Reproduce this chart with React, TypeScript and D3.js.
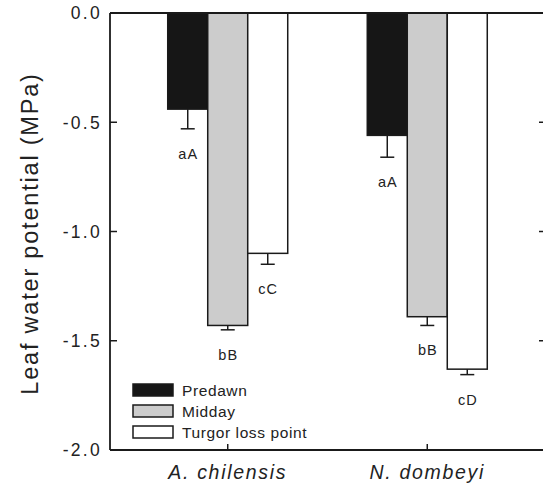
import React, { useRef, useEffect } from 'react';
import * as d3 from 'd3';

const species = ['A. chilensis', 'N. dombeyi'];
const seriesNames = ['Predawn', 'Midday', 'Turgor loss point'];
const seriesFill = ['#161616', '#cccccc', '#ffffff'];
// values[species][series]
const values = [
  [-0.44, -1.43, -1.1],
  [-0.56, -1.39, -1.63],
];
const errors = [
  [0.09, 0.02, 0.05],
  [0.1, 0.04, 0.025],
];
const letters = [
  ['aA', 'bB', 'cC'],
  ['aA', 'bB', 'cD'],
];
const yTicks = [0, -0.5, -1.0, -1.5, -2.0];

const W = 543;
const H = 486;
const font = 'Arial, "Liberation Sans", Helvetica, sans-serif';

const App: React.FC = () => {
  const ref = useRef<SVGSVGElement | null>(null);

  useEffect(() => {
    if (!ref.current) return;
    const svg = d3.select(ref.current);
    svg.selectAll('*').remove();

    const left = 110;
    const right = 545;
    const top = 13;
    const bottom = 450;

    const y = d3.scaleLinear().domain([0, -2]).range([top, bottom]);
    const x0 = d3.scaleBand().domain(species).range([left, right]).paddingInner(0).paddingOuter(0.09);
    const barW = 40;
    const x1 = d3.scaleBand().domain(seriesNames).range([0, barW * 3]);

    const g = svg.append('g');

    // bars
    species.forEach((sp, i) => {
      const gx = (x0(sp) as number) + x0.bandwidth() / 2 - barW * 1.5;
      seriesNames.forEach((s, j) => {
        const v = values[i][j];
        const bx = gx + (x1(s) as number);
        g.append('rect')
          .attr('x', bx)
          .attr('y', y(0))
          .attr('width', x1.bandwidth())
          .attr('height', y(v) - y(0))
          .attr('fill', seriesFill[j])
          .attr('stroke', '#1a1a1a')
          .attr('stroke-width', 1.5);
        const cx = bx + x1.bandwidth() / 2;
        const ey = y(v - errors[i][j]);
        g.append('line')
          .attr('x1', cx).attr('x2', cx)
          .attr('y1', y(v)).attr('y2', ey)
          .attr('stroke', '#1a1a1a').attr('stroke-width', 1.5);
        g.append('line')
          .attr('x1', cx - 7).attr('x2', cx + 7)
          .attr('y1', ey).attr('y2', ey)
          .attr('stroke', '#1a1a1a').attr('stroke-width', 1.5);
        g.append('text')
          .attr('x', cx + 0.5)
          .attr('y', ey + 30)
          .attr('text-anchor', 'middle')
          .attr('font-family', font)
          .attr('font-size', 14.5)
          .attr('letter-spacing', 1)
          .attr('fill', '#222')
          .text(letters[i][j]);
      });
    });

    // frame
    const axisColor = '#1a1a1a';
    g.append('line').attr('x1', left).attr('x2', left).attr('y1', top).attr('y2', bottom)
      .attr('stroke', axisColor).attr('stroke-width', 1.8);
    g.append('line').attr('x1', right).attr('x2', right).attr('y1', top).attr('y2', bottom)
      .attr('stroke', axisColor).attr('stroke-width', 1.8);
    g.append('line').attr('x1', left).attr('x2', right).attr('y1', top).attr('y2', top)
      .attr('stroke', axisColor).attr('stroke-width', 1.8);
    g.append('line').attr('x1', left).attr('x2', right).attr('y1', bottom).attr('y2', bottom)
      .attr('stroke', axisColor).attr('stroke-width', 1.8);

    // y ticks (inward) and labels
    yTicks.forEach((t) => {
      g.append('line').attr('x1', left).attr('x2', left + 7).attr('y1', y(t)).attr('y2', y(t))
        .attr('stroke', axisColor).attr('stroke-width', 1.5);
      g.append('line').attr('x1', right - 6).attr('x2', right).attr('y1', y(t)).attr('y2', y(t))
        .attr('stroke', axisColor).attr('stroke-width', 1.5);
      g.append('text')
        .attr('x', left - 8)
        .attr('y', y(t))
        .attr('dy', '0.36em')
        .attr('text-anchor', 'end')
        .attr('font-family', font)
        .attr('font-size', 17.5)
        .attr('letter-spacing', 2.3)
        .attr('fill', '#222')
        .text(d3.format('.1f')(t).replace('−', '-'));
    });

    // x ticks and labels
    species.forEach((sp) => {
      const cx = (x0(sp) as number) + x0.bandwidth() / 2;
      g.append('line').attr('x1', cx).attr('x2', cx).attr('y1', bottom).attr('y2', bottom - 6)
        .attr('stroke', axisColor).attr('stroke-width', 1.5);
      g.append('text')
        .attr('x', cx)
        .attr('y', bottom + 29)
        .attr('text-anchor', 'middle')
        .attr('font-family', font)
        .attr('font-style', 'italic')
        .attr('font-size', 19.5)
        .attr('letter-spacing', 1.7)
        .attr('fill', '#222')
        .text(sp);
    });

    // y title
    g.append('text')
      .attr('transform', `translate(38,${(72 + 395) / 2}) rotate(-90)`)
      .attr('text-anchor', 'middle')
      .attr('font-family', font)
      .attr('font-size', 23.5)
      .attr('letter-spacing', 1.8)
      .attr('fill', '#222')
      .text('Leaf water potential (MPa)');

    // legend
    const legend = g.append('g').attr('transform', 'translate(133,384)');
    seriesNames.forEach((s, j) => {
      legend.append('rect')
        .attr('x', 0)
        .attr('y', j * 21)
        .attr('width', 40)
        .attr('height', 12)
        .attr('fill', seriesFill[j])
        .attr('stroke', '#1a1a1a')
        .attr('stroke-width', 1.5);
      legend.append('text')
        .attr('x', 49)
        .attr('y', j * 21 + 6.5)
        .attr('dy', '0.36em')
        .attr('font-family', font)
        .attr('font-size', 15.5)
        .attr('letter-spacing', 0.6)
        .attr('fill', '#222')
        .text(s);
    });
  }, []);

  return (
    <svg
      ref={ref}
      width={W}
      height={H}
      style={{ position: 'absolute', left: 0, top: 0, background: '#fff' }}
    />
  );
};

export default App;
